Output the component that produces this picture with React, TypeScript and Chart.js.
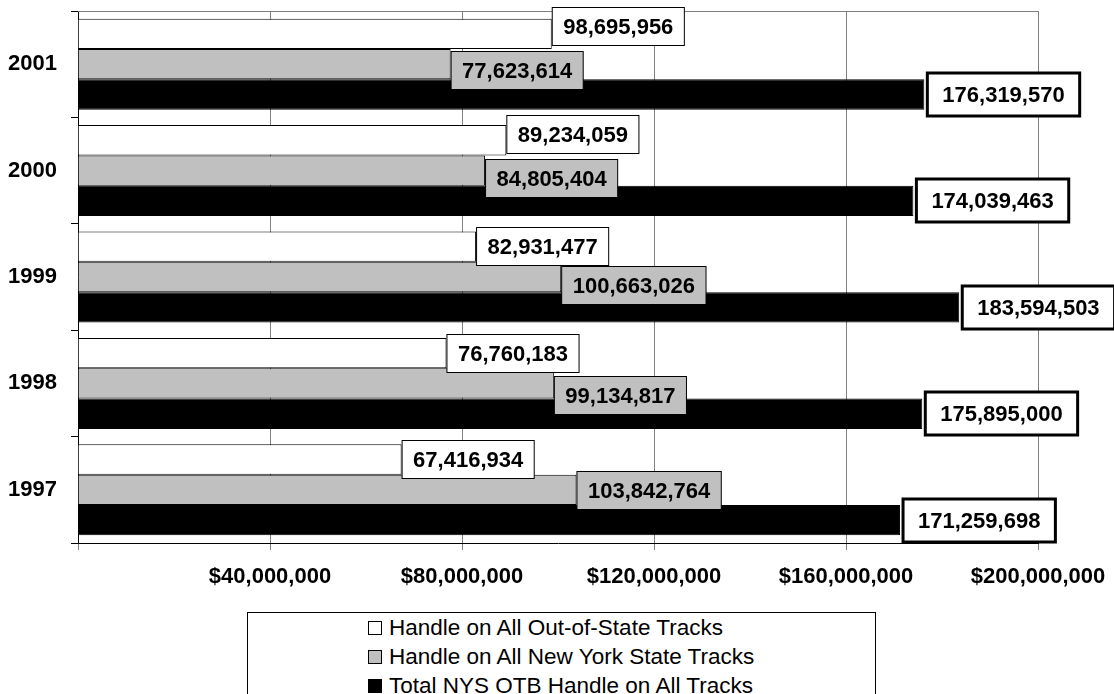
import React, { useEffect, useRef } from "react";
import { Chart, registerables } from "chart.js";

Chart.register(...registerables);

const categories = ["2001", "2000", "1999", "1998", "1997"];
const outOfState = [98695956, 89234059, 82931477, 76760183, 67416934];
const nyState = [77623614, 84805404, 100663026, 99134817, 103842764];
const totalHandle = [176319570, 174039463, 183594503, 175895000, 171259698];
const seriesNames = [
  "Handle on All Out-of-State Tracks",
  "Handle on All New York State Tracks",
  "Total NYS OTB Handle on All Tracks",
];
const xTicks = [0, 40000000, 80000000, 120000000, 160000000, 200000000];

// style constants
const FONT = '"Liberation Sans", Arial, sans-serif';
const COLORS = ["#ffffff", "#c0c0c0", "#000000"];
const labelNudge = [
  [-8, -6, -1, 0, 0],
  [6, 7, 8, 12, 0],
  [0, 0, 0, 0, 0],
];

const fmt = (v: number) => v.toLocaleString("en-US");

const labelPlugin = {
  id: "boxLabels",
  beforeDatasetsDraw(chart: any) {
    const { ctx, chartArea } = chart;
    ctx.save();
    ctx.strokeStyle = "#808080";
    ctx.lineWidth = 1;
    ctx.beginPath();
    ctx.moveTo(chartArea.left, chartArea.top + 0.5);
    ctx.lineTo(chartArea.right, chartArea.top + 0.5);
    ctx.stroke();
    ctx.restore();
  },
  afterDatasetsDraw(chart: any) {
    const { ctx } = chart;
    ctx.save();
    ctx.font = `bold 22px ${FONT}`;
    ctx.textBaseline = "middle";
    ctx.textAlign = "center";
    chart.data.datasets.forEach((ds: any, di: number) => {
      const meta = chart.getDatasetMeta(di);
      meta.data.forEach((bar: any, i: number) => {
        const text = fmt(ds.data[i]);
        const tw = ctx.measureText(text).width;
        const isTotal = di === 2;
        const padX = isTotal ? 15 : 11;
        const h = isTotal ? 43 : 38;
        const lw = isTotal ? 3 : 1;
        const left = bar.x + (isTotal ? 3 : 0.5);
        const w = tw + padX * 2;
        const cy = bar.y + labelNudge[di][i];
        const top = Math.round(cy - h / 2) + (isTotal ? 0 : 0.5);
        ctx.fillStyle = isTotal ? "#ffffff" : COLORS[di];
        ctx.fillRect(left, top, w, h);
        ctx.lineWidth = lw;
        ctx.strokeStyle = "#000000";
        ctx.strokeRect(left, top, w, h);
        ctx.fillStyle = "#000000";
        ctx.fillText(text, left + w / 2, top + h / 2 + 1);
      });
    });
    ctx.restore();
  },
};

export default function App() {
  const canvasRef = useRef<HTMLCanvasElement | null>(null);

  useEffect(() => {
    if (!canvasRef.current) return;
    const datasets = [outOfState, nyState, totalHandle].map((d, i) => ({
      label: seriesNames[i],
      data: d,
      backgroundColor: COLORS[i],
      borderColor: "#000000",
      borderWidth: 1,
      categoryPercentage: 0.855,
      barPercentage: 1,
    }));
    const chart = new Chart(canvasRef.current, {
      type: "bar",
      data: { labels: categories, datasets },
      plugins: [labelPlugin],
      options: {
        indexAxis: "y",
        animation: false,
        responsive: false,
        maintainAspectRatio: false,
        events: [],
        layout: { padding: { top: 11, right: 76, left: 0, bottom: 0 } },
        plugins: {
          legend: { display: false },
          tooltip: { enabled: false },
          title: { display: false },
        },
        scales: {
          x: {
            min: 0,
            max: 200000000,
            afterBuildTicks: (scale: any) => {
              scale.ticks = xTicks.map((v) => ({ value: v }));
            },
            afterFit: (scale: any) => {
              scale.height = 151;
              scale.paddingLeft = 0;
              scale.paddingRight = 0;
              scale.paddingTop = 0;
              scale.paddingBottom = 0;
            },
            ticks: {
              callback: (v: any) => (Number(v) === 0 ? "" : "$" + fmt(Number(v))),
              font: { family: FONT, size: 22, weight: "bold" },
              color: "#000000",
              padding: 14,
              maxRotation: 0,
              autoSkip: false,
            },
            grid: {
              color: "#808080",
              tickColor: "#808080",
              tickLength: 7,
              lineWidth: 1,
            },
            border: { color: "#000000", width: 1 },
          },
          y: {
            afterFit: (scale: any) => {
              scale.width = 78;
              scale.paddingLeft = 0;
              scale.paddingRight = 0;
              scale.paddingTop = 0;
              scale.paddingBottom = 0;
            },
            ticks: {
              font: { family: FONT, size: 22, weight: "bold" },
              color: "#000000",
              padding: 14,
            },
            grid: {
              offset: true,
              drawOnChartArea: false,
              color: "#000000",
              tickLength: 7,
            },
            border: { color: "#000000", width: 1 },
          },
        },
      },
    });
    return () => chart.destroy();
  }, []);

  const markerStyle = (c: string): React.CSSProperties => ({
    display: "inline-block",
    width: 12,
    height: 12,
    background: c,
    border: "1px solid #000",
    marginRight: 7,
    verticalAlign: "middle",
    position: "relative",
    top: -1,
  });

  return (
    <div
      style={{
        position: "fixed",
        left: 0,
        top: 0,
        width: 1114,
        height: 694,
        overflow: "hidden",
        background: "#ffffff",
      }}
    >
      <canvas ref={canvasRef} width={1114} height={694} style={{ display: "block" }} />
      <div
        style={{
          position: "absolute",
          left: 247,
          top: 612,
          width: 629,
          height: 100,
          border: "1px solid #000",
          background: "#fff",
          boxSizing: "border-box",
          paddingLeft: 120,
          fontFamily: FONT,
          fontSize: 22.5,
          lineHeight: "29px",
          color: "#000",
        }}
      >
        {seriesNames.map((n, i) => (
          <div key={n} style={{ whiteSpace: "nowrap" }}>
            <span style={markerStyle(COLORS[i])} />
            {n}
          </div>
        ))}
      </div>
    </div>
  );
}
